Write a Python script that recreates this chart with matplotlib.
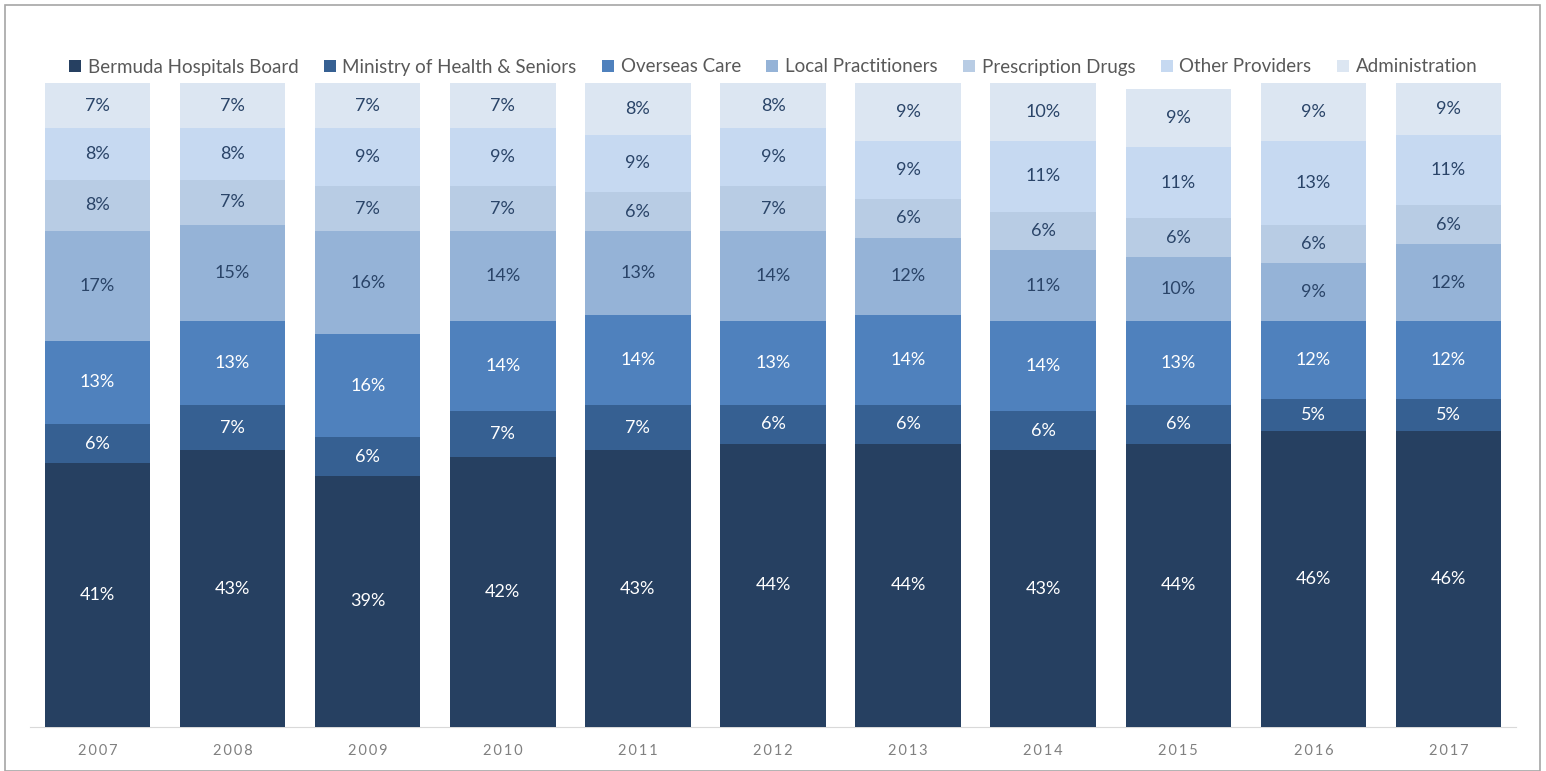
import matplotlib.pyplot as plt
import numpy as np
from matplotlib.patches import Rectangle

plt.rcParams['font.family'] = ['Lato', 'DejaVu Sans']

years = ["2007", "2008", "2009", "2010", "2011", "2012",
         "2013", "2014", "2015", "2016", "2017"]

categories = ["Bermuda Hospitals Board", "Ministry of Health & Seniors",
              "Overseas Care", "Local Practitioners", "Prescription Drugs",
              "Other Providers", "Administration"]

bermuda_hospitals = [41, 43, 39, 42, 43, 44, 44, 43, 44, 46, 46]
ministry_health = [6, 7, 6, 7, 7, 6, 6, 6, 6, 5, 5]
overseas_care = [13, 13, 16, 14, 14, 13, 14, 14, 13, 12, 12]
local_practitioners = [17, 15, 16, 14, 13, 14, 12, 11, 10, 9, 12]
prescription_drugs = [8, 7, 7, 7, 6, 7, 6, 6, 6, 6, 6]
other_providers = [8, 8, 9, 9, 9, 9, 9, 11, 11, 13, 11]
administration = [7, 7, 7, 7, 8, 8, 9, 10, 9, 9, 9]

series = [bermuda_hospitals, ministry_health, overseas_care,
          local_practitioners, prescription_drugs, other_providers,
          administration]

colors = ["#264061", "#366092", "#4F81BD", "#95B3D7",
          "#B8CCE4", "#C6D9F1", "#DCE6F2"]
label_colors = ["white", "white", "white", "#2A4468",
                "#2A4468", "#2A4468", "#2A4468"]

fig = plt.figure(figsize=(15.46, 7.71), dpi=100)
ax = fig.add_axes([30 / 1546, 44 / 771, 1486 / 1546, 644 / 771])

x = np.arange(len(years))
bottom = np.zeros(len(years))
for vals, col, lcol in zip(series, colors, label_colors):
    vals = np.array(vals, dtype=float)
    ax.bar(x, vals, bottom=bottom, width=0.78, color=col,
           edgecolor="none", zorder=2)
    for xi, b, v in zip(x, bottom, vals):
        ax.text(xi, min(b + v / 2, (b + 100) / 2), f"{int(v)}%",
                ha="center", va="center", fontsize=13, color=lcol, zorder=3)
    bottom += vals

ax.set_xlim(-0.5, len(years) - 0.5)
ax.set_ylim(0, 100)
ax.set_xticks(x)
ax.set_xticklabels(["\u2009".join(y) for y in years], fontsize=10.5,
                   color="#808080")
ax.tick_params(axis="x", length=0, pad=12)
ax.set_yticks([])
for side in ["top", "right", "left"]:
    ax.spines[side].set_visible(False)
ax.spines["bottom"].set_color("#D9D9D9")
ax.spines["bottom"].set_zorder(1)

# legend row across the top
handles = [Rectangle((0, 0), 1, 1, facecolor=c, edgecolor="none")
           for c in colors]
fig.legend(handles, categories, loc="center", ncol=7,
           bbox_to_anchor=(0.5, 1 - 67 / 771), frameon=False,
           fontsize=13.5, labelcolor="#595959", handlelength=0.65,
           handleheight=0.65, handletextpad=0.35, columnspacing=1.35)

# outer frame
fig.patches.append(Rectangle((5 / 1546, 0), 1535 / 1546, 766 / 771,
                             transform=fig.transFigure, fill=False,
                             edgecolor="#A6A6A6", linewidth=1.2))

fig.savefig("out.png", dpi=100)
